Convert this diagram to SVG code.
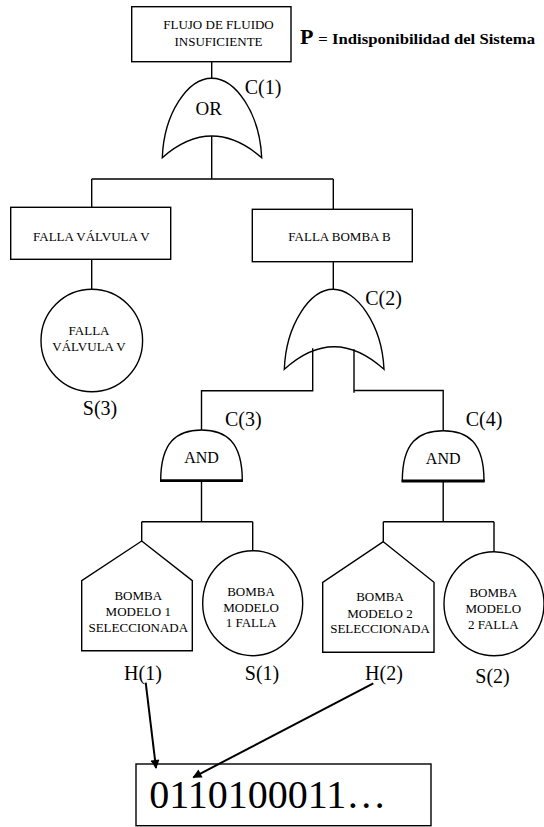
<svg xmlns="http://www.w3.org/2000/svg" width="544" height="827" viewBox="0 0 544 827">
<defs>
<style>
.s{fill:none;stroke:#000;stroke-width:1.4}
.w{fill:#fff;stroke:#000;stroke-width:1.4}
.t{font-family:"Liberation Serif","Times New Roman",serif;font-size:13px;fill:#000;text-anchor:middle}
.l{font-family:"Liberation Serif","Times New Roman",serif;font-size:20px;fill:#000;text-anchor:middle}
.g{font-family:"Liberation Serif","Times New Roman",serif;fill:#000;text-anchor:middle}
.a{fill:none;stroke:#000;stroke-width:2;marker-end:url(#ah)}
</style>
<marker id="ah" viewBox="0 0 10 10" refX="9" refY="5" markerWidth="5" markerHeight="4.5" orient="auto" markerUnits="strokeWidth">
<path d="M0,0 L10,5 L0,10 z" fill="#000"/>
</marker>
</defs>
<rect width="544" height="827" fill="#fff"/>

<g id="top-event">
<rect class="w" x="131.7" y="6.7" width="159.3" height="55"/>
<text class="t" x="218.5" y="29.3">FLUJO DE FLUIDO</text>
<text class="t" x="218.5" y="45.7">INSUFICIENTE</text>
</g>

<g id="legend">
<text x="300" y="44.3" style="font-family:'Liberation Serif','Times New Roman',serif;font-size:22px;font-weight:bold">P</text>
<text x="318.3" y="44.3" textLength="216.7" lengthAdjust="spacingAndGlyphs" style="font-family:'Liberation Serif','Times New Roman',serif;font-size:15px;font-weight:bold">= Indisponibilidad del Sistema</text>
</g>

<g id="gate-c1">
<path class="w" d="M162.3,157.7 C164,113 188,78.3 211.7,78.3 C235.4,78.3 259.7,113 261.7,157.7 Q211.7,114.5 162.3,157.7 Z"/>
<text class="g" x="208.7" y="115" style="font-size:19px">OR</text>
<text class="l" x="263" y="94.3">C(1)</text>
</g>

<g id="falla-valvula">
<rect class="w" x="10.7" y="207.3" width="160" height="52"/>
<text class="t" x="91.3" y="241">FALLA VÁLVULA V</text>
</g>

<g id="falla-bomba">
<rect class="w" x="252.3" y="209.3" width="160" height="52.4"/>
<text class="t" x="339.5" y="241">FALLA BOMBA B</text>
</g>

<g id="s3">
<ellipse class="w" cx="91.8" cy="340.5" rx="50.8" ry="51.2"/>
<text class="t" x="89" y="335">FALLA</text>
<text class="t" x="89" y="351">VÁLVULA V</text>
<text class="l" x="100" y="415">S(3)</text>
</g>

<g id="gate-c2">
<path class="w" d="M284.3,369.3 C286,324.6 310,289.3 333.3,289.3 C356.6,289.3 382,324.6 384,369.3 Q334,324.1 284.3,369.3 Z"/>
<text class="l" x="383.6" y="305">C(2)</text>
</g>

<g id="gate-c3">
<path class="w" d="M160.7,480.7 C160.7,442 177,430 201.5,430 C226,430 242.3,442 242.3,480.7 Z"/>
<path d="M160,480.7 H243" stroke="#000" stroke-width="2.8"/>
<text class="g" x="201.5" y="463.3" style="font-size:16px">AND</text>
<text class="l" x="243.3" y="426">C(3)</text>
</g>

<g id="gate-c4">
<path class="w" d="M402.3,481 C402.3,442.3 418.7,430.7 443.2,430.7 C467.7,430.7 484,442.3 484,481 Z"/>
<path d="M401.6,481 H484.7" stroke="#000" stroke-width="2.8"/>
<text class="g" x="443.2" y="463.7" style="font-size:16px">AND</text>
<text class="l" x="484" y="426">C(4)</text>
</g>

<g id="h1">
<path class="w" d="M141.7,541 L192.3,580.7 V650.7 H81.7 V580.7 Z"/>
<text class="t" x="138.3" y="600">BOMBA</text>
<text class="t" x="138.3" y="615.7">MODELO 1</text>
<text class="t" x="138.3" y="631.7">SELECCIONADA</text>
<text class="l" x="143" y="680">H(1)</text>
</g>

<g id="s1">
<ellipse class="w" cx="252.7" cy="603.2" rx="50" ry="52.5"/>
<text class="t" x="251" y="595.7">BOMBA</text>
<text class="t" x="251" y="611.7">MODELO</text>
<text class="t" x="251" y="627.3">1 FALLA</text>
<text class="l" x="262" y="680">S(1)</text>
</g>

<g id="h2">
<path class="w" d="M383.3,541.7 L434,582.3 V652.3 H322.7 V582.3 Z"/>
<text class="t" x="380" y="601">BOMBA</text>
<text class="t" x="380" y="617.7">MODELO 2</text>
<text class="t" x="380" y="632.7">SELECCIONADA</text>
<text class="l" x="384" y="680">H(2)</text>
</g>

<g id="s2">
<ellipse class="w" cx="494" cy="603.8" rx="50" ry="52"/>
<text class="t" x="493.3" y="596.7">BOMBA</text>
<text class="t" x="493.3" y="612.7">MODELO</text>
<text class="t" x="493.3" y="628.7">2 FALLA</text>
<text class="l" x="492.5" y="683">S(2)</text>
</g>

<g id="bitstring">
<rect class="s" x="136" y="764" width="295" height="61.7"/>
<text x="149.3" y="808.3" style="font-family:'Liberation Serif','Times New Roman',serif;font-size:40px">0110100011…</text>
</g>

<g id="connectors">
<path class="s" d="M211.7,61.7 V78.3"/>
<path class="s" d="M211.7,136 V179 M91.7,179 H333.3 M91.7,179 V207.3 M333.3,179 V209.3"/>
<path class="s" d="M91.7,259.3 V289.3"/>
<path class="s" d="M333.3,261.7 V289.3"/>
<path class="s" d="M312.7,348.3 V390.7 H201.5 V430"/>
<path class="s" d="M354,349.3 V392.7 M354,390.5 H443.2 V430.7"/>
<path class="s" d="M201.5,480.7 V521.7 M141.7,521.7 H252.7 M141.7,521.7 V541 M252.7,521.7 V550.7"/>
<path class="s" d="M443.2,481 V521.7 M383.3,521.7 H494 M383.3,521.7 V541.7 M494,521.7 V551.7"/>
<path class="a" d="M145.7,682.7 L156,768"/>
<path class="a" d="M373.3,683.3 L193.3,777.3"/>
</g>
</svg>
